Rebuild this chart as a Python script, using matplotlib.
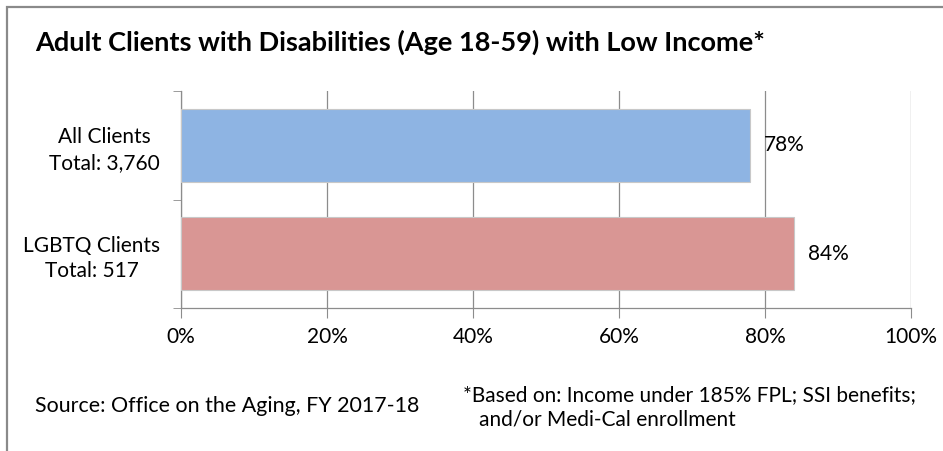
import numpy as numpy
import matplotlib
matplotlib.use("Agg")
import matplotlib.pyplot as pyplot
from matplotlib.patches import Rectangle
from matplotlib.ticker import FuncFormatter

categories = ["All Clients\nTotal: 3,760", "LGBTQ Clients\nTotal: 517"]
values = [78, 84]
bar_colors = ["#8EB4E3", "#D99694"]
x_ticks = [0, 20, 40, 60, 80, 100]

title = "Adult Clients with Disabilities (Age 18-59) with Low Income*"
source = "Source: Office on the Aging, FY 2017-18"
note = "*Based on: Income under 185% FPL; SSI benefits;\n   and/or Medi-Cal enrollment"

pyplot.rcParams["font.family"] = ["Lato", "DejaVu Sans"]
grid_color = "#8C8C8C"
fs = 15

fig = pyplot.figure(figsize=(9.43, 4.51), dpi=100)

# outer chart border (cut off at right/bottom like the screenshot)
fig.patches.append(Rectangle((6.5 / 943, -0.2), 1.5, 1.2 - 6.5 / 451,
                             transform=fig.transFigure, fill=False,
                             edgecolor="#8A8A8A", linewidth=1.6))

ax = fig.add_axes([181 / 943, 1 - 308 / 451, 730 / 943, 217 / 451])

y = numpy.arange(len(categories))
ax.barh(y, values, height=0.67, color=bar_colors,
        edgecolor="#C8C8C8", linewidth=0.8, zorder=3)

for yi, v in zip(y, values):
    ax.annotate("%d%%" % v, xy=(v, yi), xytext=(10, 0),
                textcoords="offset points", va="center", ha="left",
                fontsize=fs, color="#000000")

ax.set_xlim(0, 100)
ax.set_ylim(len(categories) - 0.5, -0.5)
ax.set_xticks(x_ticks)
ax.xaxis.set_major_formatter(FuncFormatter(lambda v, p: "%d%%" % v))
ax.grid(axis="x", color=grid_color, linewidth=0.9, zorder=0)

ax.set_yticks(y)
ax.set_yticklabels(categories, fontsize=fs, ha="right",
                   multialignment="center", linespacing=1.35)
ax.tick_params(axis="y", which="major", length=0, pad=15)
ax.set_yticks(numpy.arange(-0.5, len(categories), 1.0), minor=True)
ax.tick_params(axis="y", which="minor", length=6, color=grid_color,
               direction="out")
ax.tick_params(axis="x", length=7, color=grid_color, labelsize=fs, pad=7)

for side in ["top", "right"]:
    ax.spines[side].set_visible(False)
for side in ["left", "bottom"]:
    ax.spines[side].set_color(grid_color)
    ax.spines[side].set_linewidth(0.9)

fig.text(35 / 943, 1 - 42 / 451, title, fontsize=19.5, fontweight="bold",
         va="center", ha="left")
fig.text(35 / 943, 1 - 406 / 451, source, fontsize=15.4, va="center",
         ha="left")
fig.text(463 / 943, 1 - 407 / 451, note, fontsize=fs, va="center",
         ha="left", linespacing=1.3)

fig.savefig("out.png", dpi=100)
